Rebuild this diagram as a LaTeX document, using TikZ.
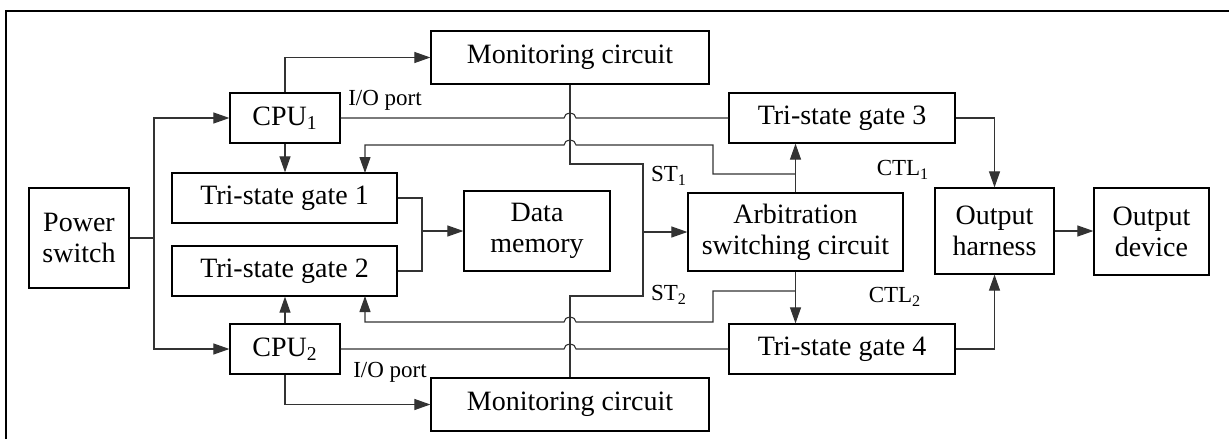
\documentclass[tikz,border=0pt]{standalone}
\usepackage{fontspec}
\setmainfont{Liberation Serif}
\usetikzlibrary{arrows.meta, positioning}

\begin{document}
\begin{tikzpicture}[x=0.5pt, y=-0.5pt,
        n/.style={draw, line width=0.6pt, inner sep=0pt, align=center, font=\fontsize{14}{15.5}\selectfont},
        lb/.style={font=\fontsize{11.5}{13}\selectfont},
        l/.style={draw=black!80, line width=0.55pt},
        e/.style={l, -{Triangle[length=8pt,width=5.5pt]}},
        jmp/.style={insert path={arc[start angle=180, end angle=0, x radius=3pt, y radius=2.4pt]}},
        jmpl/.style={insert path={arc[start angle=0, end angle=180, x radius=3pt, y radius=2.4pt]}}]
        \useasboundingbox (0,0) rectangle (1229,439);
        \draw[line width=0.8pt] (6,439) -- (6,11) -- (1229,11);

        % boxes: name/x/y/width/height/text
        \foreach \nm/\x/\y/\w/\h/\txt in {pwr/79/238/50/50/Power\\switch,
                cpu1/285/118/55/25/CPU\textsubscript{1}, cpu2/285/349/55/25/CPU\textsubscript{2},
                tri1/284.5/198/112.5/25/Tri-state gate 1, tri2/284.5/271/112.5/25/Tri-state gate 2,
                mon1/570/57.5/139/26.5/Monitoring circuit, mon2/570/404.5/139/26.5/Monitoring circuit,
                mem/537/231/73/40/Data\\memory, arb/795.5/232/107.5/39/Arbitration\\switching circuit,
                tri3/842/118/113/25/Tri-state gate 3, tri4/842/349/113/25/Tri-state gate 4,
                har/994.5/231/59.5/43/Output\\harness, dev/1151.5/231.5/57.5/43.5/Output\\device}
        \node[n, minimum width=\w pt, minimum height=\h pt] (\nm) at (\x,\y) {\txt};

        \coordinate (bus) at (154,238);
        \coordinate (mj) at (422,231);
        \coordinate (st) at (643,232);
        \coordinate (ctl1) at (795.5,174);
        \coordinate (ctl2) at (795.5,291);

        \draw[l] (pwr.east) -- (bus);
        \draw[e] (bus) |- (cpu1);
        \draw[e] (bus) |- (cpu2);

        \draw[e] (cpu1.north) |- (mon1);
        \draw[e] (cpu1.south) -- (cpu1.south |- tri1.north);
        \draw[e] (cpu2.north) -- (cpu2.north |- tri2.south);
        \draw[e] (cpu2.south) |- (mon2);

        \draw[l] (cpu1.east) -- (564,118) [jmp] -- (tri3.west);
        \draw[l] (cpu2.east) -- (564,349) [jmp] -- (tri4.west);

        \draw[l] (tri1.east) -| (mj) |- (tri2.east);
        \draw[e] (mj) -- (mem.west);

        \draw[l] (mon1.south) |- (st |- 0,164) -- (st);
        \draw[l] (mon2.north) |- (st |- 0,296) -- (st);
        \draw[e] (st) -- (arb.west);

        \draw[e] (arb.north) -- (arb.north |- tri3.south);
        \draw[e] (arb.south) -- (arb.south |- tri4.north);
        \draw[e] (ctl1) -| (713,145) -- (576,145) [jmpl] -- (365,145) -- (365,173);
        \draw[e] (ctl2) -| (713,322) -- (576,322) [jmpl] -- (365,322) -- (365,296);

        \draw[e] (tri3.east) -| (har.north);
        \draw[e] (tri4.east) -| (har.south);
        \draw[e] (har.east) -- (har.east -| dev.west);

        \node[lb] (io1) at (385,100) {I/O port};
        \node[lb] (io2) at (390,372) {I/O port};
        \node[lb] (st1) at (669,176) {ST\textsubscript{1}};
        \node[lb] (st2) at (669,295) {ST\textsubscript{2}};
        \node[lb] (c1) at (903,170) {CTL\textsubscript{1}};
        \node[lb] (c2) at (895,297) {CTL\textsubscript{2}};
      \end{tikzpicture}
\end{document}
